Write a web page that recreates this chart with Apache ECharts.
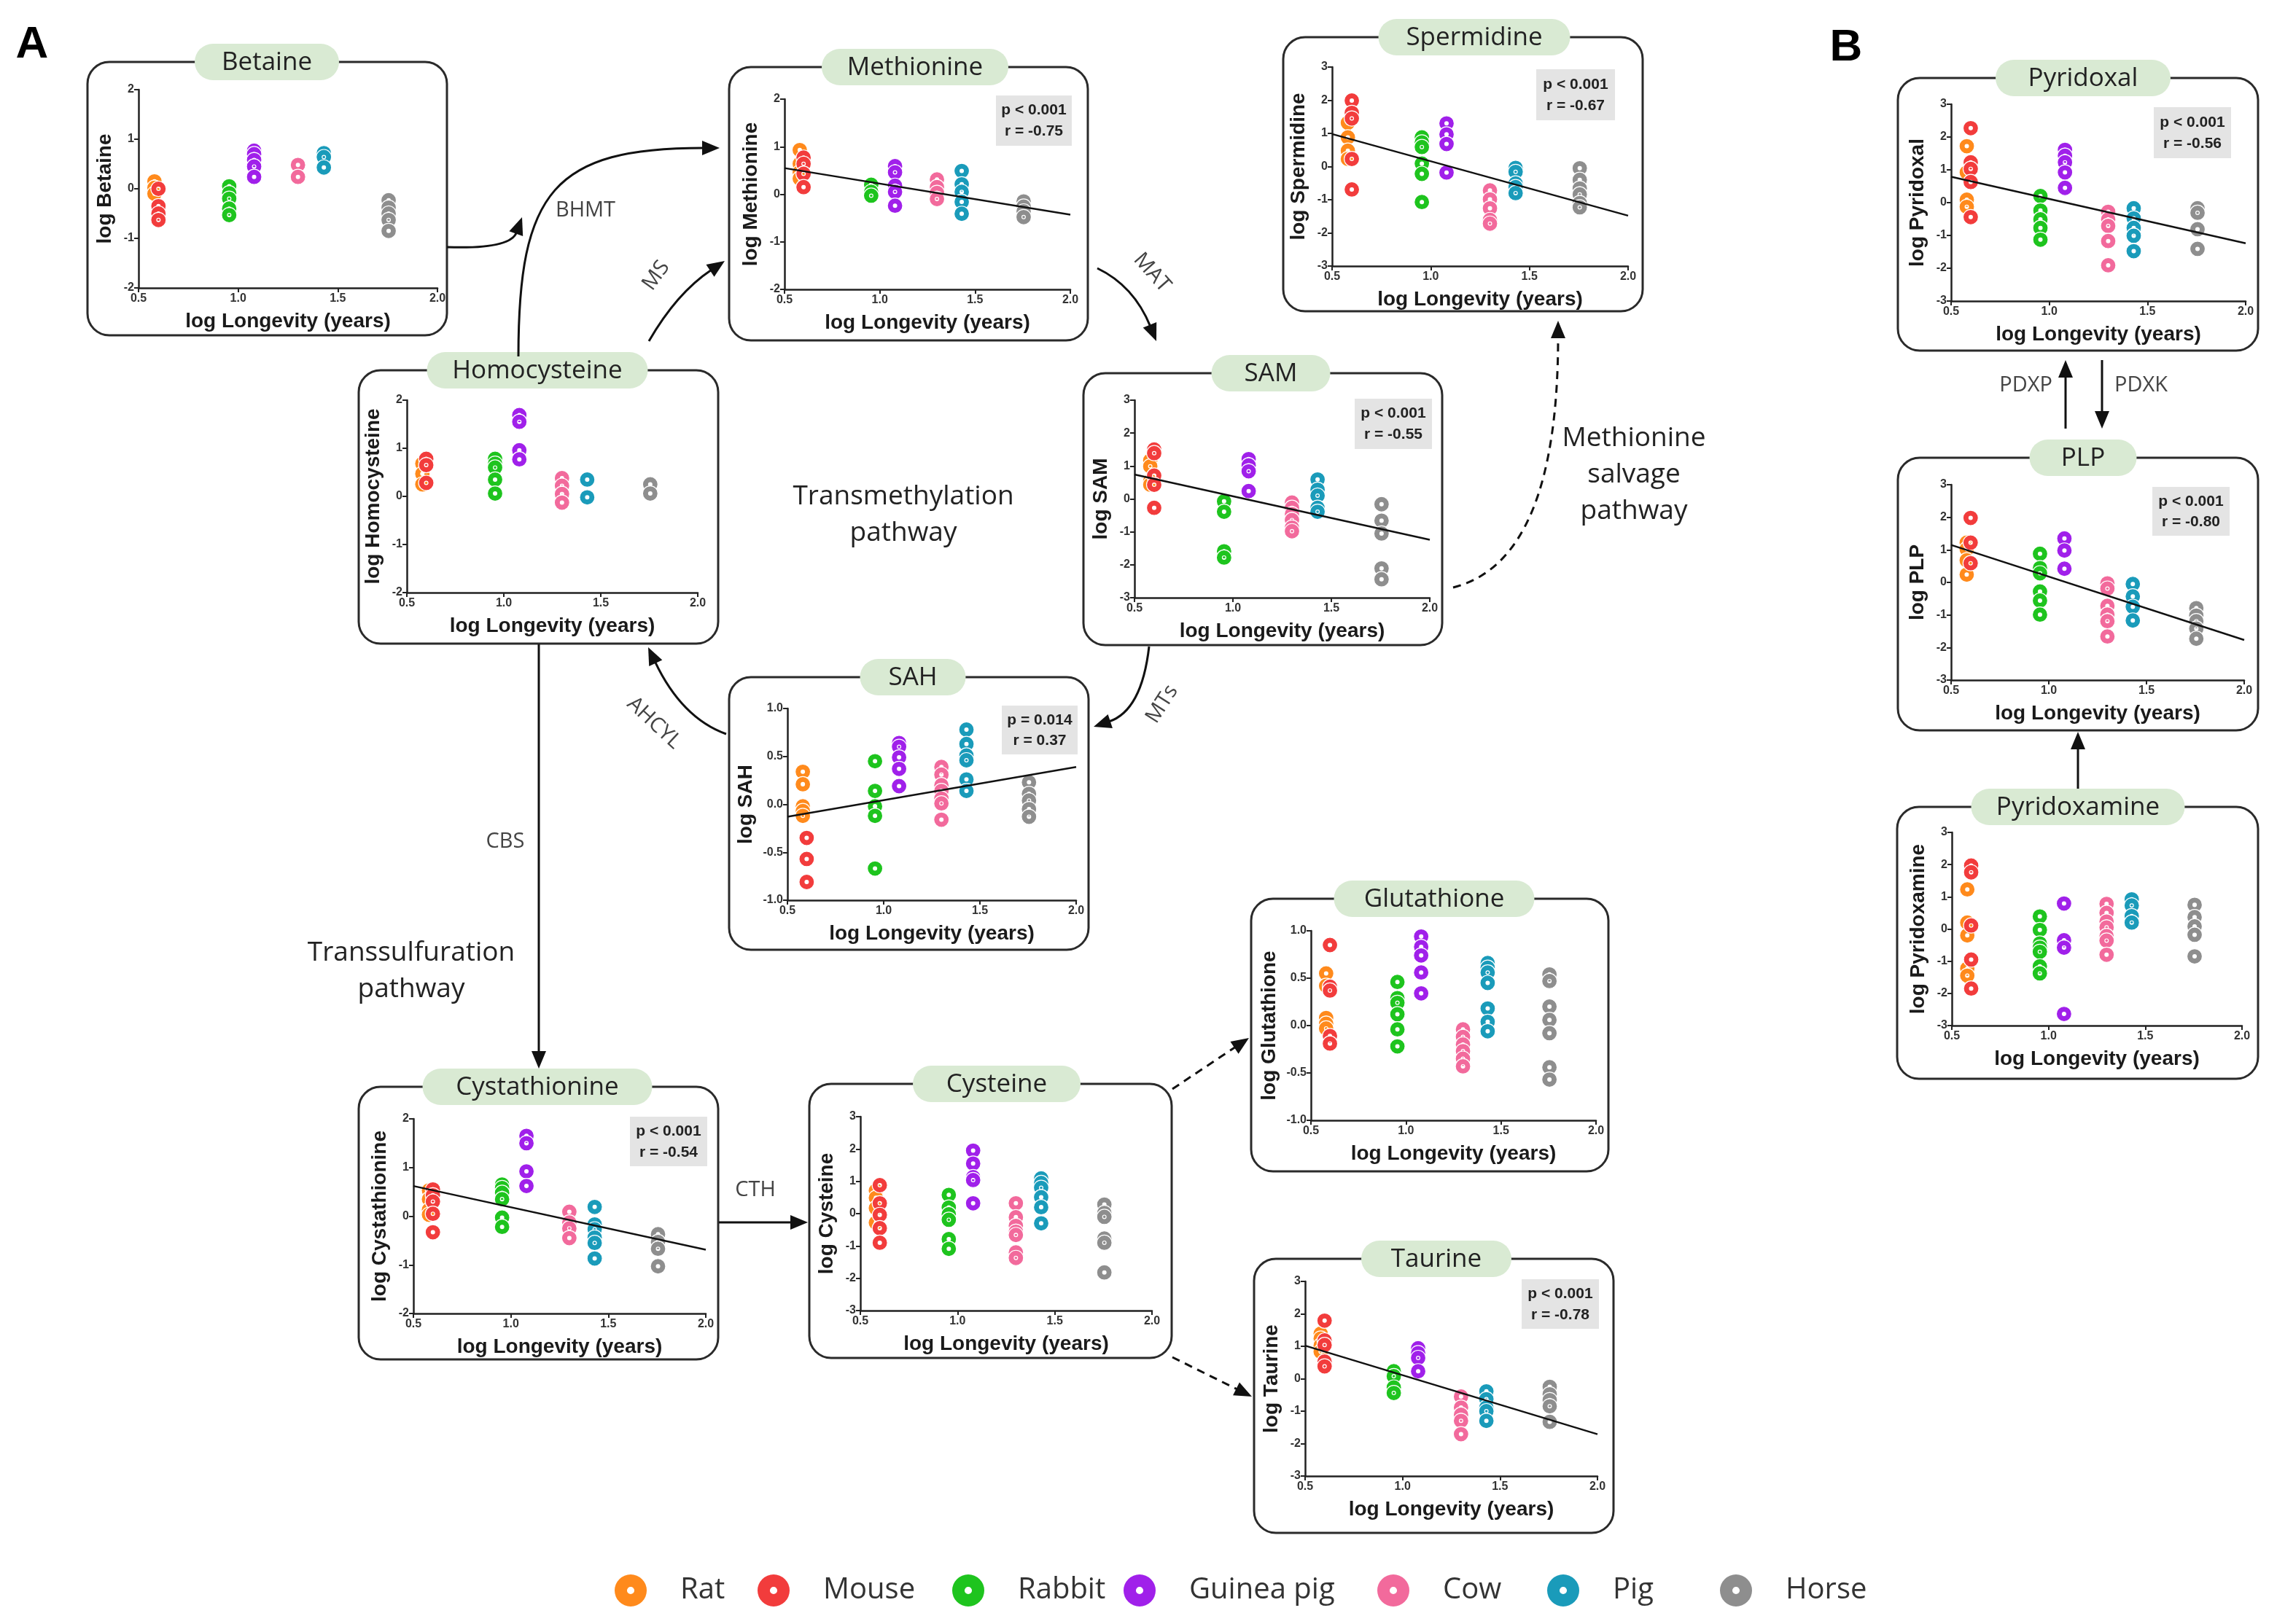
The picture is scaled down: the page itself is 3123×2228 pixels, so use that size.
<!DOCTYPE html>
<html><head><meta charset="utf-8">
<script src="https://cdn.jsdelivr.net/npm/echarts@6/dist/echarts.min.js"></script>
<style>html,body{margin:0;padding:0;background:#fff}#c{width:3123px;height:2228px}</style>
</head><body><div id="c"></div>
<script>
// ---------- DATA ----------
const species = ['Rat','Mouse','Rabbit','Guinea pig','Cow','Pig','Horse'];
const speciesColors = ['#FF8A1C','#F23C3C','#1EC41E','#A020EA','#F26A9C','#1A9BBA','#8E8E8E'];
const logLongevity = [0.58, 0.60, 0.955, 1.08, 1.30, 1.43, 1.755];
const xTicks = [0.5, 1.0, 1.5, 2.0];

const betaine = [
  [0.15, 0.02, -0.1],
  [0.0, -0.35, -0.5, -0.63],
  [0.05, -0.09, -0.2, -0.4, -0.53],
  [0.77, 0.70, 0.58, 0.45, 0.24],
  [0.48, 0.24],
  [0.72, 0.64, 0.43],
  [-0.23, -0.38, -0.5, -0.63, -0.85]
];
const methionine = [
  [0.93, 0.64, 0.46, 0.33],
  [0.77, 0.64, 0.43, 0.15],
  [0.2, 0.05, -0.03],
  [0.59, 0.46, 0.18, 0.05, -0.24],
  [0.31, 0.15, 0.03, -0.1],
  [0.49, 0.21, 0.05, -0.16, -0.41],
  [-0.15, -0.26, -0.36, -0.48]
];
const methionineFit = [0.55, -0.43];
const methionineStats = ['p < 0.001', 'r = -0.75'];

const spermidine = [
  [1.32, 0.88, 0.48, 0.23],
  [1.99, 1.62, 1.45, 0.23, -0.69],
  [0.88, 0.73, 0.59, 0.09, -0.22, -1.07],
  [1.30, 0.97, 0.68, -0.18],
  [-0.72, -0.99, -1.26, -1.61, -1.72],
  [-0.04, -0.16, -0.51, -0.62, -0.80],
  [-0.05, -0.40, -0.66, -0.84, -1.10, -1.23]
];
const spermidineFit = [0.98, -1.48];
const spermidineStats = ['p < 0.001', 'r = -0.67'];

const homocysteine = [
  [0.68, 0.47, 0.25],
  [0.78, 0.65, 0.28],
  [0.78, 0.68, 0.6, 0.35, 0.06],
  [1.69, 1.55, 0.96, 0.77],
  [0.38, 0.22, 0.05, -0.13],
  [0.35, -0.02],
  [0.25, 0.06]
];

const sam = [
  [1.17, 0.99, 0.54, 0.43],
  [1.50, 1.39, 0.71, 0.43, -0.27],
  [-0.07, -0.39, -1.59, -1.78],
  [1.21, 1.02, 0.84, 0.24],
  [-0.11, -0.27, -0.46, -0.64, -0.87, -0.98],
  [0.59, 0.28, 0.10, -0.27, -0.39],
  [-0.16, -0.66, -1.05, -2.11, -2.44]
];
const samFit = [0.74, -1.24];
const samStats = ['p < 0.001', 'r = -0.55'];

const sah = [
  [0.34, 0.21, -0.02, -0.07, -0.12],
  [-0.35, -0.57, -0.81],
  [0.45, 0.14, -0.02, -0.12, -0.67],
  [0.64, 0.60, 0.49, 0.37, 0.19],
  [0.39, 0.31, 0.20, 0.14, 0.06, 0.01, -0.16],
  [0.78, 0.63, 0.51, 0.46, 0.26, 0.14],
  [0.23, 0.11, 0.04, -0.05, -0.13]
];
const sahFit = [-0.13, 0.39];
const sahStats = ['p = 0.014', 'r = 0.37'];

const cystathionine = [
  [0.53, 0.35, 0.13, 0.03],
  [0.55, 0.43, 0.30, 0.05, -0.33],
  [0.65, 0.58, 0.48, 0.35, -0.03, -0.22],
  [1.65, 1.50, 0.92, 0.62],
  [0.09, -0.13, -0.25, -0.45],
  [0.19, -0.17, -0.27, -0.44, -0.55, -0.87],
  [-0.37, -0.53, -0.67, -1.03]
];
const cystathionineFit = [0.62, -0.69];
const cystathionineStats = ['p < 0.001', 'r = -0.54'];

const cysteine = [
  [0.71, 0.49, 0.17, -0.28],
  [0.88, 0.32, -0.04, -0.45, -0.90],
  [0.58, 0.19, -0.02, -0.19, -0.79, -1.09],
  [1.95, 1.55, 1.13, 1.04, 0.32],
  [0.32, -0.11, -0.38, -0.56, -0.66, -1.20, -1.37],
  [1.09, 0.95, 0.80, 0.51, 0.20, -0.30],
  [0.28, 0.02, -0.10, -0.77, -0.90, -1.82]
];

const glutathione = [
  [0.55, 0.42, 0.08, 0.02, -0.03],
  [0.85, 0.41, 0.37, -0.11, -0.19],
  [0.46, 0.29, 0.24, 0.12, -0.04, -0.22],
  [0.94, 0.83, 0.74, 0.56, 0.34],
  [-0.04, -0.12, -0.20, -0.27, -0.35, -0.43],
  [0.66, 0.61, 0.56, 0.45, 0.18, 0.04, -0.06],
  [0.54, 0.47, 0.20, 0.06, -0.08, -0.44, -0.57]
];

const taurine = [
  [1.39, 1.24, 1.02, 0.83],
  [1.79, 1.18, 1.04, 0.53, 0.38],
  [0.23, 0.08, -0.27, -0.44],
  [0.94, 0.79, 0.64, 0.23],
  [-0.55, -0.89, -1.11, -1.30, -1.71],
  [-0.39, -0.63, -0.89, -1.00, -1.30],
  [-0.25, -0.48, -0.66, -0.85, -1.33]
];
const taurineFit = [1.02, -1.71];
const taurineStats = ['p < 0.001', 'r = -0.78'];

const pyridoxal = [
  [1.72, 0.92, 0.09, -0.13],
  [2.27, 1.23, 1.03, 0.63, -0.44],
  [0.20, -0.24, -0.51, -0.77, -1.13],
  [1.61, 1.43, 1.23, 0.92, 0.45],
  [-0.28, -0.51, -0.71, -1.17, -1.91],
  [-0.17, -0.48, -0.77, -1.01, -1.48],
  [-0.17, -0.31, -0.81, -1.41]
];
const pyridoxalFit = [0.79, -1.24];
const pyridoxalStats = ['p < 0.001', 'r = -0.56'];

const plp = [
  [1.22, 1.02, 0.68, 0.24],
  [1.98, 1.22, 0.59],
  [0.88, 0.44, 0.28, -0.28, -0.56, -0.99],
  [1.35, 0.98, 0.42],
  [-0.03, -0.19, -0.72, -0.99, -1.19, -1.66],
  [-0.05, -0.43, -0.75, -1.17],
  [-0.79, -1.02, -1.19, -1.42, -1.73]
];
const plpFit = [1.15, -1.77];
const plpStats = ['p < 0.001', 'r = -0.80'];

const pyridoxamine = [
  [1.23, 0.20, -0.20, -1.23, -1.45],
  [1.97, 1.76, 0.11, -0.95, -1.85],
  [0.39, -0.03, -0.45, -0.58, -0.71, -1.16, -1.38],
  [0.79, -0.35, -0.58, -2.64],
  [0.78, 0.50, 0.23, 0.05, -0.22, -0.36, -0.80],
  [0.92, 0.73, 0.40, 0.20],
  [0.75, 0.37, 0.08, -0.18, -0.85]
];

// ---------- LAYOUT ----------
const panels = [
  {title:'Betaine', values:betaine, fit:null, stats:null, y:[-2,2,1], dec:0, box:[120,85,613,460], pill:[366,198], grid:[190,123,410,272], statBox:null},
  {title:'Methionine', values:methionine, fit:methionineFit, stats:methionineStats, y:[-2,2,1], dec:0, box:[1000,92,1492,467], pill:[1255,256], grid:[1076,136,392,261], statBox:[1366,131,104,69]},
  {title:'Spermidine', values:spermidine, fit:spermidineFit, stats:spermidineStats, y:[-3,3,1], dec:0, box:[1760,51,2253,427], pill:[2022,263], grid:[1827,92,406,273], statBox:[2107,95,108,70]},
  {title:'Homocysteine', values:homocysteine, fit:null, stats:null, y:[-2,2,1], dec:0, box:[492,508,985,883], pill:[737,303], grid:[558,549,399,264], statBox:null},
  {title:'SAM', values:sam, fit:samFit, stats:samStats, y:[-3,3,1], dec:0, box:[1486,512,1978,885], pill:[1743,163], grid:[1556,549,405,271], statBox:[1858,547,106,69]},
  {title:'SAH', values:sah, fit:sahFit, stats:sahStats, y:[-1,1,0.5], dec:1, box:[1000,929,1493,1303], pill:[1252,145], grid:[1080,972,396,263], statBox:[1374,968,104,67]},
  {title:'Cystathionine', values:cystathionine, fit:cystathionineFit, stats:cystathionineStats, y:[-2,2,1], dec:0, box:[492,1491,985,1865], pill:[737,315], grid:[567,1535,401,267], statBox:[864,1532,106,68]},
  {title:'Cysteine', values:cysteine, fit:null, stats:null, y:[-3,3,1], dec:0, box:[1110,1487,1607,1863], pill:[1367,230], grid:[1180,1532,400,266], statBox:null},
  {title:'Glutathione', values:glutathione, fit:null, stats:null, y:[-1,1,0.5], dec:1, box:[1716,1233,2206,1607], pill:[1967,275], grid:[1798,1277,391,260], statBox:null},
  {title:'Taurine', values:taurine, fit:taurineFit, stats:taurineStats, y:[-3,3,1], dec:0, box:[1720,1727,2213,2103], pill:[1970,206], grid:[1790,1758,401,267], statBox:[2087,1755,106,68]},
  {title:'Pyridoxal', values:pyridoxal, fit:pyridoxalFit, stats:pyridoxalStats, y:[-3,3,1], dec:0, box:[2603,107,3097,481], pill:[2857,240], grid:[2676,143,404,270], statBox:[2954,147,106,70]},
  {title:'PLP', values:plp, fit:plpFit, stats:plpStats, y:[-3,3,1], dec:0, box:[2603,628,3097,1002], pill:[2857,147], grid:[2676,665,402,268], statBox:[2952,668,106,67]},
  {title:'Pyridoxamine', values:pyridoxamine, fit:null, stats:null, y:[-3,3,1], dec:0, box:[2602,1107,3097,1480], pill:[2850,293], grid:[2677,1142,398,265], statBox:null}
];
const legendLeft = [838, 1034, 1301, 1536, 1884, 2117, 2354];

const RING = 'path://M0,-10A10,10,0,1,1,0,10A10,10,0,1,1,0,-10ZM0,-2.3A2.3,2.3,0,1,0,0,2.3A2.3,2.3,0,1,0,0,-2.3Z';
const AX = '"Liberation Sans", Arial, sans-serif';
const OS = '"Open Sans", sans-serif';
const INK = '#1a1a1a';

const grids = [], xAxes = [], yAxes = [], series = [];
const G = [];

panels.forEach((p, gi) => {
  grids.push({left:p.grid[0], top:p.grid[1], width:p.grid[2], height:p.grid[3], containLabel:false, outerBoundsMode:'none'});
  xAxes.push({
    type:'value', gridIndex:gi, min:xTicks[0], max:xTicks[xTicks.length-1], interval:0.5,
    axisLine:{show:true, onZero:false, lineStyle:{color:'#222', width:2.5}},
    axisTick:{show:true, length:6, lineStyle:{color:'#222', width:2}},
    axisLabel:{formatter:v=>v.toFixed(1), fontFamily:AX, fontWeight:'bold', fontSize:16, color:'#333', margin:7},
    splitLine:{show:false},
    name:'log Longevity (years)', nameLocation:'middle', nameGap:32,
    nameTextStyle:{fontFamily:AX, fontWeight:'bold', fontSize:28, color:INK}
  });
  yAxes.push({
    type:'value', gridIndex:gi, min:p.y[0], max:p.y[1], interval:p.y[2],
    axisLine:{show:true, onZero:false, lineStyle:{color:'#222', width:2.5}},
    axisTick:{show:true, length:6, lineStyle:{color:'#222', width:2}},
    axisLabel:{formatter:v=>p.dec ? v.toFixed(1) : String(Math.round(v)), fontFamily:AX, fontWeight:'bold', fontSize:16, color:'#333', margin:6},
    splitLine:{show:false},
    name:'log ' + p.title, nameLocation:'middle', nameGap: p.dec ? 43 : 32,
    nameTextStyle:{fontFamily:AX, fontWeight:'bold', fontSize:28, color:INK}
  });
  p.values.forEach((vals, s) => {
    series.push({
      type:'scatter', name:species[s], xAxisIndex:gi, yAxisIndex:gi,
      data: vals.map(v => [logLongevity[s], v]),
      symbol: RING, symbolSize:21,
      itemStyle:{color:speciesColors[s], borderColor:'#fff', borderWidth:1.2, opacity:1},
      z:3, silent:true, animation:false
    });
  });
  if (p.fit) {
    series.push({
      type:'line', name:'fit-' + p.title, xAxisIndex:gi, yAxisIndex:gi,
      data:[[xTicks[0], p.fit[0]], [xTicks[xTicks.length-1], p.fit[1]]],
      symbol:'none', lineStyle:{color:'#111', width:2.5}, z:4, silent:true, animation:false
    });
  }
  const b = p.box;
  G.push({type:'rect', shape:{x:b[0], y:b[1], width:b[2]-b[0], height:b[3]-b[1], r:30},
    style:{fill:'none', stroke:'#2a2a2a', lineWidth:3}, z:1, silent:true});
  G.push({type:'rect', shape:{x:p.pill[0]-p.pill[1]/2, y:b[1]-25, width:p.pill[1], height:50, r:25},
    style:{fill:'#d9ead3'}, z:2, silent:true});
  G.push({type:'text', x:p.pill[0], y:b[1]+1, style:{text:p.title, fill:'#222', font:'400 35px ' + OS,
    textAlign:'center', textVerticalAlign:'middle', align:'center', verticalAlign:'middle'}, z:3, silent:true});
  if (p.statBox) {
    const s = p.statBox;
    G.push({type:'rect', shape:{x:s[0], y:s[1], width:s[2], height:s[3]}, style:{fill:'#e4e4e4'}, z:2, silent:true});
    p.stats.forEach((t, k) => {
      G.push({type:'text', x:s[0]+s[2]/2, y:s[1] + s[3]*(k===0 ? 0.3 : 0.72),
        style:{text:t, fill:'#222', font:'bold 21px ' + AX, textAlign:'center', textVerticalAlign:'middle', align:'center', verticalAlign:'middle'},
        z:3, silent:true});
    });
  }
});

// ---------- pathway arrows and labels ----------
function head(tip, from) {
  const a = Math.atan2(tip[1]-from[1], tip[0]-from[0]);
  const len = 24, half = 10;
  const bx = tip[0] - len*Math.cos(a), by = tip[1] - len*Math.sin(a);
  const px = -Math.sin(a)*half, py = Math.cos(a)*half;
  G.push({type:'polygon', shape:{points:[[tip[0],tip[1]],[bx+px,by+py],[bx-px,by-py]]}, style:{fill:'#111'}, z:4, silent:true});
  return [bx + 2*Math.cos(a), by + 2*Math.sin(a)];
}
function straight(p0, p1, dashed) {
  const e = head(p1, p0);
  G.push({type:'line', shape:{x1:p0[0], y1:p0[1], x2:e[0], y2:e[1]},
    style:{stroke:'#111', lineWidth:3, lineDash: dashed ? [11,8] : null}, z:4, silent:true});
}
function quad(p0, c, p1, dashed) {
  const e = head(p1, c);
  G.push({type:'bezierCurve', shape:{x1:p0[0], y1:p0[1], x2:e[0], y2:e[1], cpx1:c[0], cpy1:c[1]},
    style:{stroke:'#111', lineWidth:3, fill:'none', lineDash: dashed ? [11,8] : null}, z:4, silent:true});
}
function cubic(p0, c1, c2, p1) {
  const e = head(p1, c2);
  G.push({type:'bezierCurve', shape:{x1:p0[0], y1:p0[1], x2:e[0], y2:e[1], cpx1:c1[0], cpy1:c1[1], cpx2:c2[0], cpy2:c2[1]},
    style:{stroke:'#111', lineWidth:3, fill:'none'}, z:4, silent:true});
}
function label(text, x, y, size, rot, weight, color, align) {
  G.push({type:'text', x:x, y:y, rotation:rot || 0,
    style:{text:text, fill:color || '#333', font:(weight||'400') + ' ' + size + 'px ' + OS,
      textAlign:align||'center', textVerticalAlign:'middle', align:align||'center', verticalAlign:'middle'}, z:5, silent:true});
}

cubic([711,489], [711,262], [760,203], [987,203]);          // Homocysteine -> Methionine (BHMT)
quad([613,339], [700,342], [716,298]);                       // Betaine joins
quad([890,468], [928,402], [994,358]);                       // MS
quad([1505,368], [1555,392], [1586,468]);                    // MAT
quad([1576,887], [1566,975], [1500,997]);                    // MTs
quad([996,1007], [935,985], [889,888]);                      // AHCYL
straight([739,884], [739,1466]);                             // CBS
straight([986,1677], [1108,1677]);                           // CTH
straight([1608,1494], [1713,1424], true);                    // -> Glutathione
straight([1608,1862], [1717,1916], true);                    // -> Taurine
quad([1993,806], [2137,770], [2137,440], true);              // Methionine salvage
straight([2833,588], [2833,494]);                            // PDXP
straight([2883,494], [2883,588]);                            // PDXK
straight([2850,1082], [2850,1004]);                          // Pyridoxamine -> PLP

label('BHMT', 803, 289, 29, 0, '400', '#444');
label('MS', 900, 378, 29, 0.95, '400', '#444');
label('MAT', 1580, 374, 29, -0.85, '400', '#444');
label('MTs', 1594, 966, 29, 1.0, '400', '#444');
label('AHCYL', 897, 992, 29, -0.75, '400', '#444');
label('CBS', 693, 1155, 29, 0, '400', '#444');
label('CTH', 1036, 1633, 29, 0, '400', '#444');
label('PDXP', 2815, 529, 29, 0, '400', '#444', 'right');
label('PDXK', 2900, 529, 29, 0, '400', '#444', 'left');
label('Transmethylation', 1239, 681, 37, 0, '400', '#222');
label('pathway', 1239, 731, 37, 0, '400', '#222');
label('Methionine', 2241, 601, 37, 0, '400', '#222');
label('salvage', 2241, 651, 37, 0, '400', '#222');
label('pathway', 2241, 701, 37, 0, '400', '#222');
label('Transsulfuration', 564, 1307, 37, 0, '400', '#222');
label('pathway', 564, 1357, 37, 0, '400', '#222');
G.push({type:'text', x:44, y:62, style:{text:'A', fill:'#000', font:'bold 62px ' + AX, textAlign:'center', textVerticalAlign:'middle', align:'center', verticalAlign:'middle'}, z:5});
G.push({type:'text', x:2532, y:66, style:{text:'B', fill:'#000', font:'bold 62px ' + AX, textAlign:'center', textVerticalAlign:'middle', align:'center', verticalAlign:'middle'}, z:5});

const legends = species.map((s, i) => ({
  data:[{name:s, icon:RING, itemStyle:{color:speciesColors[i], borderColor:'#fff', borderWidth:0}}],
  left:legendLeft[i], top:2155, orient:'horizontal', itemWidth:44, itemHeight:44, selectedMode:false,
  textStyle:{fontFamily:OS, fontSize:40, color:'#333', padding:[0,0,0,41]}
}));

const chart = echarts.init(document.getElementById('c'), null, {renderer:'canvas'});
chart.setOption({
  animation:false,
  backgroundColor:'#ffffff',
  grid:grids, xAxis:xAxes, yAxis:yAxes, series:series,
  legend:legends,
  graphic:{elements:G}
});
</script>
</body></html>
